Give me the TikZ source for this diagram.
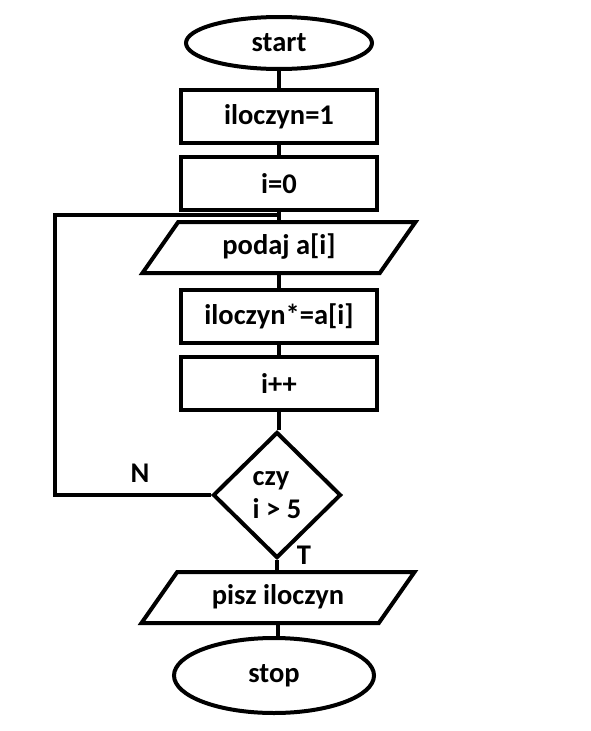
\documentclass[tikz,border=0pt]{standalone}
\usepackage{fontspec}
\setmainfont{Carlito}
\usetikzlibrary{shapes.geometric}

\begin{document}
\begin{tikzpicture}[x=1pt,y=-1pt,line width=4pt,font=\fontsize{28.5}{33}\selectfont\bfseries,
  term/.style={ellipse,draw,inner sep=0pt},
  proc/.style={rectangle,draw,minimum width=196pt,minimum height=53pt,inner sep=0pt},
  io/.style={trapezium,trapezium left angle=55,trapezium right angle=125,trapezium stretches body,
    draw,minimum width=273pt,text height=20pt,text depth=6pt,inner xsep=0pt,inner ysep=12.5pt},
  cond/.style={diamond,draw,minimum width=128pt,minimum height=126pt,inner sep=0pt,align=left},
  lbl/.style={inner sep=0pt}]
 \useasboundingbox (0,0) rectangle (591,731);
 \node[term,minimum width=186pt,minimum height=52pt] (start) at (279,43) {start};
 \node[proc] (ilo1) at (279,116.5) {iloczyn=1};
 \node[proc] (izero) at (279,183.5) {i=0};
 \node[io] (podaj) at (279,247.5) {podaj a[i]};
 \node[proc] (mult) at (279,316) {iloczyn*=a[i]};
 \node[proc] (ipp) at (279,383) {i++};
 \node[cond] (dec) at (277,495) {czy\\i > 5};
 \node[io] (pisz) at (278,597.5) {pisz iloczyn};
 \node[term,minimum width=200pt,minimum height=75pt] (stop) at (274,675.5) {stop};
 \node[lbl] (lblN) at (140,473) {N};
 \node[lbl] (lblT) at (304,555) {T};
 \coordinate (back) at (55,215);
 % connectors
 \draw (start) -- (ilo1);
 \draw (ilo1) -- (izero);
 \draw (izero) -- (podaj);
 \draw (podaj) -- (mult);
 \draw (mult) -- (ipp);
 \draw (ipp.south) -- (ipp.south |- dec.north);
 \draw (dec.south) -- (dec.south |- pisz.north);
 \draw (pisz.south) -- (pisz.south |- stop.north);
 \draw (dec.west) -| (back) -| (podaj.north);
\end{tikzpicture}
\end{document}
